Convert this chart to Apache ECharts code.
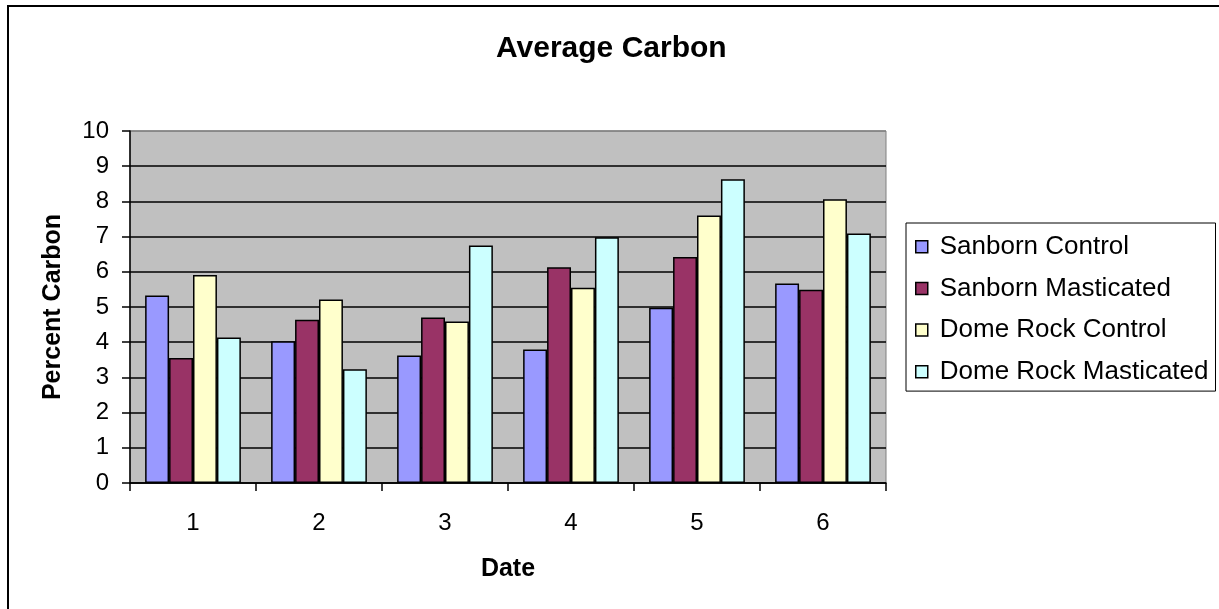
<!DOCTYPE html>
<html>
<head>
<meta charset="utf-8">
<script src="https://cdn.jsdelivr.net/npm/echarts@6/dist/echarts.min.js"></script>
<style>
html,body{margin:0;padding:0;background:#fff;}
#chart{width:1219px;height:609px;}
</style>
</head>
<body>
<div id="chart"></div>
<script>
const categories = ['1', '2', '3', '4', '5', '6'];
const sanbornControl = [5.33, 4.03, 3.62, 3.79, 4.98, 5.67];
const sanbornMasticated = [3.55, 4.64, 4.70, 6.13, 6.42, 5.49];
const domeRockControl = [5.91, 5.21, 4.59, 5.55, 7.60, 8.06];
const domeRockMasticated = [4.13, 3.23, 6.75, 6.98, 8.63, 7.09];
const seriesNames = ['Sanborn Control', 'Sanborn Masticated', 'Dome Rock Control', 'Dome Rock Masticated'];
const seriesColors = ['#9999FF', '#993366', '#FFFFCC', '#CCFFFF'];
const seriesValues = [sanbornControl, sanbornMasticated, domeRockControl, domeRockMasticated];

const FONT = '"Liberation Sans", Arial, sans-serif';
const chart = echarts.init(document.getElementById('chart'), null, {renderer: 'canvas'});

const gridColors = [];
for (let i = 0; i <= 10; i++) gridColors.push(i === 10 ? '#808080' : '#000000');

chart.setOption({
  animation: false,
  backgroundColor: '#ffffff',
  title: {
    text: 'Average Carbon',
    left: 496,
    top: 34,
    textStyle: {fontFamily: FONT, fontSize: 30, fontWeight: 'bold', color: '#000'},
    itemGap: 0,
    padding: 0
  },
  graphic: [{
    type: 'rect',
    shape: {x: 8, y: 6, width: 1400, height: 800},
    style: {fill: null, stroke: '#000', lineWidth: 2},
    silent: true,
    z: 100
  }],
  legend: {
    orient: 'vertical',
    left: 906,
    top: 223,
    data: seriesNames,
    itemWidth: 12,
    itemHeight: 12,
    itemGap: 15.7,
    padding: [10.7, 7, 6.3, 9],
    borderColor: '#000',
    borderWidth: 1,
    backgroundColor: '#fff',
    icon: 'rect',
    itemStyle: {borderColor: '#000', borderWidth: 1.5},
    textStyle: {fontFamily: FONT, fontSize: 26, color: '#000', lineHeight: 26, padding: [0, 0, 0, 7]}
  },
  grid: {
    left: 130,
    right: 333,
    top: 131,
    bottom: 126,
    show: true,
    backgroundColor: '#C0C0C0',
    borderColor: '#808080',
    borderWidth: 1
  },
  xAxis: {
    type: 'category',
    data: categories,
    name: 'Date',
    nameLocation: 'middle',
    nameGap: 74,
    nameTextStyle: {fontFamily: FONT, fontSize: 25, fontWeight: 'bold', color: '#000'},
    axisLine: {show: true, lineStyle: {color: '#000', width: 1.5}},
    axisTick: {show: true, length: 8, lineStyle: {color: '#000', width: 1.5}},
    axisLabel: {fontFamily: FONT, fontSize: 24, color: '#000', margin: 28},
    splitLine: {show: false}
  },
  yAxis: {
    type: 'value',
    min: 0,
    max: 10,
    interval: 1,
    name: 'Percent Carbon',
    nameLocation: 'middle',
    nameGap: 64,
    nameRotate: 90,
    nameTextStyle: {fontFamily: FONT, fontSize: 25, fontWeight: 'bold', color: '#000'},
    axisLine: {show: true, lineStyle: {color: '#000', width: 1.5}},
    axisTick: {show: true, length: 8, lineStyle: {color: '#000', width: 1.5}},
    axisLabel: {fontFamily: FONT, fontSize: 24, color: '#000', margin: 21},
    splitLine: {show: true, lineStyle: {color: gridColors, width: 1.5}}
  },
  series: seriesNames.map((name, i) => ({
    name: name,
    type: 'bar',
    data: seriesValues[i],
    barGap: '0%',
    barCategoryGap: '24%',
    itemStyle: {color: seriesColors[i], borderColor: '#000', borderWidth: 1.5}
  }))
});
</script>
</body>
</html>
